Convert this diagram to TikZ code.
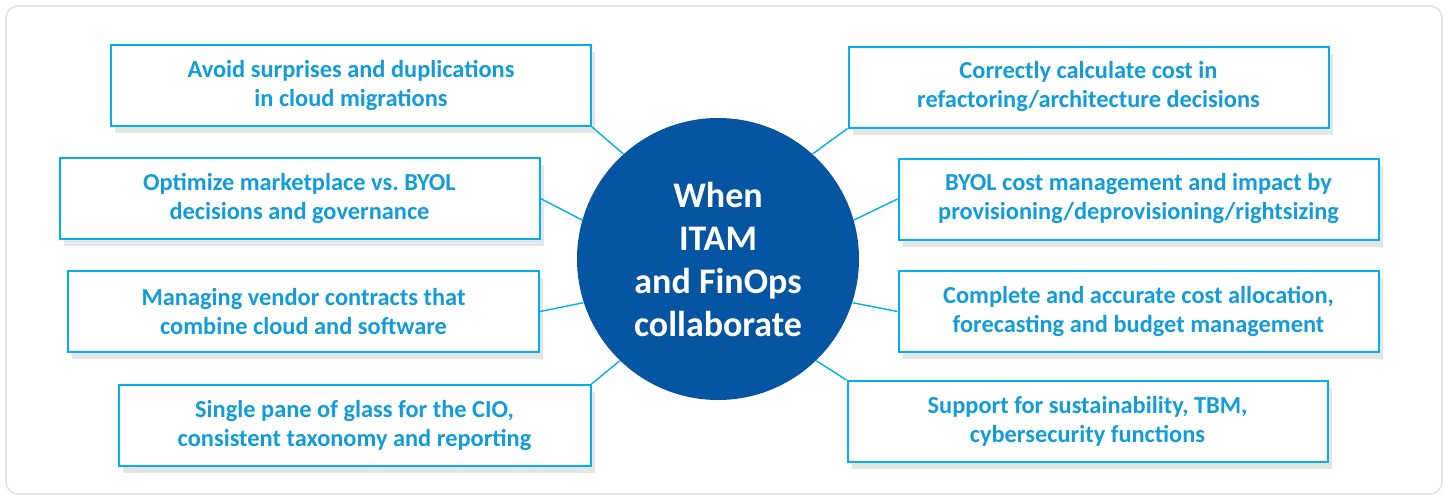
\documentclass[tikz,border=0pt]{standalone}
\usepackage{fontspec}
\setmainfont{Carlito}
\usepackage{tikz}
\usetikzlibrary{shadows}
\definecolor{itamcyan}{RGB}{0,176,240}
\definecolor{itamtext}{RGB}{18,156,218}
\definecolor{itamblue}{RGB}{5,85,162}
\definecolor{framegray}{RGB}{228,228,228}
\tikzset{
  goalbox/.style={ draw=itamcyan, line width=1pt, fill=white, minimum width=240pt, minimum height=40.5pt,
    align=center, text=itamtext, font=\bfseries\fontsize{12.2}{14.5}\selectfont,
    drop shadow={fill=black, opacity=0.1, shadow xshift=2pt, shadow yshift=-3.5pt} }
}
\tikzset{
  hub/.style={ circle, fill=itamblue, minimum size=141pt, inner sep=0pt, align=center,
    text=white, font=\bfseries\fontsize{18}{21.5}\selectfont }
}
\tikzset{
  spoke/.style={ draw=itamcyan, line width=0.7pt }
}

\begin{document}
\frenchspacing
\begin{tikzpicture}[x=0.5pt, y=-0.5pt]
      \useasboundingbox (0,0) rectangle (1447,499);
      \draw[framegray, line width=0.8pt, fill=white, rounded corners=6pt] (6,6) rectangle (1442,494);

      \node[hub] (hub) at (718,259) {When\\ITAM\\and FinOps\\collaborate};

      \node[goalbox] (L1) at (351,85.5) {Avoid surprises and duplications\\in cloud migrations};
      \node[goalbox] (L2) at (299.5,198.5) {Optimize marketplace vs. BYOL\\decisions and governance};
      \node[goalbox, minimum width=235.5pt] (L3) at (303.5,311.5) {Managing vendor contracts that\\combine cloud and software};
      \node[goalbox, minimum width=236pt] (L4) at (354.5,425.5) {Single pane of glass for the CIO,\\consistent taxonomy and reporting};

      \node[goalbox] (R1) at (1088.5,87) {Correctly calculate cost in\\refactoring/architecture decisions};
      \node[goalbox] (R2) at (1138.5,199) {BYOL cost management and impact by\\provisioning/deprovisioning/rightsizing};
      \node[goalbox] (R3) at (1138.5,311.5) {Complete and accurate cost allocation,\\forecasting and budget management};
      \node[goalbox] (R4) at (1087.5,421.5) {Support for sustainability, TBM,\\cybersecurity functions};

      \begin{scope}[spoke]
        \draw (hub.132) -- (L1.south east);
        \draw (hub.164) -- (L2.east);
        \draw (hub.198) -- (L3.east);
        \draw (hub.226) -- (L4.north east);

        \draw (hub.48) -- (R1.south west);
        \draw (hub.16) -- (R2.west);
        \draw (hub.-18) -- (R3.west);
        \draw (hub.-46) -- (R4.north west);
      \end{scope}
    \end{tikzpicture}
\end{document}
